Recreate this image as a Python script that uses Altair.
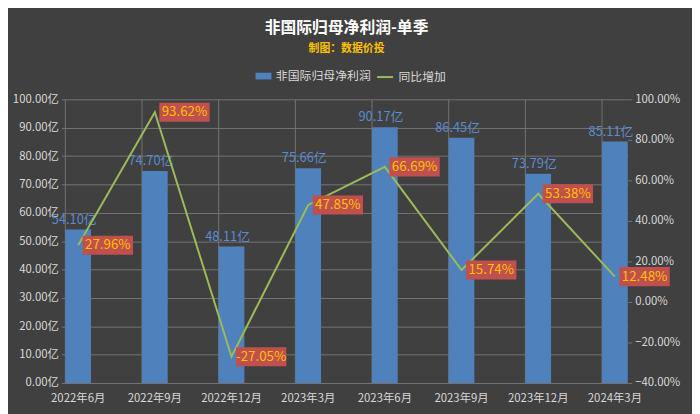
import altair as alt
import pandas as pd

quarters = ["2022年6月", "2022年9月", "2022年12月", "2023年3月",
            "2023年6月", "2023年9月", "2023年12月", "2024年3月"]
profit = [54.10, 74.70, 48.11, 75.66, 90.17, 86.45, 73.79, 85.11]
yoy = [27.96, 93.62, -27.05, 47.85, 66.69, 15.74, 53.38, 12.48]
left_ticks = [0, 10, 20, 30, 40, 50, 60, 70, 80, 90, 100]
right_ticks = [-40, -20, 0, 20, 40, 60, 80, 100]

BAR_NAME = "非国际归母净利润"
LINE_NAME = "同比增加"
FONT = "Noto Sans CJK SC"
BG = "#404040"
GRID = "#737373"
LABEL = "#d9d9d9"
BAR_C = "#4f81bd"
LINE_C = "#9bbb59"

df = pd.DataFrame({"quarter": quarters, "profit": profit, "yoy": yoy})
df["bar_series"] = BAR_NAME
df["line_series"] = LINE_NAME
df["profit_lbl"] = [f"{v:.2f}亿" for v in profit]
df["yoy_lbl"] = [f"{v:.2f}%" for v in yoy]

xscale = alt.Scale(paddingInner=0.665, paddingOuter=0)
x = alt.X("quarter:N", sort=quarters, scale=xscale,
          axis=alt.Axis(title=None, labelAngle=0, labelColor=LABEL, labelFontSize=11.5,
                        labelFont=FONT, ticks=False, domain=True, domainColor=GRID,
                        grid=False, labelPadding=10))

base = alt.Chart(df)

# vertical gridlines at the left edge of each bar
vgrid = base.mark_rule(color=GRID, strokeWidth=1, xOffset=-13).encode(x=x)

y_left = alt.Y("profit:Q", scale=alt.Scale(domain=[0, 100], nice=False),
               axis=alt.Axis(title=None, values=left_ticks,
                             labelExpr="format(datum.value, '.2f') + '亿'",
                             labelColor=LABEL, labelFontSize=11.5, labelFont=FONT,
                             grid=True, gridColor=GRID, gridWidth=1,
                             domain=False, ticks=True, tickSize=4, tickColor=GRID,
                             labelPadding=3))

bars = base.mark_bar().encode(
    x=x,
    y=y_left,
    fill=alt.Fill("bar_series:N",
                  scale=alt.Scale(domain=[BAR_NAME], range=[BAR_C]),
                  legend=alt.Legend(title=None, orient="none", legendX=192, legendY=-32,
                                    direction="horizontal",
                                    symbolType="M-1,-0.42L1,-0.42L1,0.42L-1,0.42Z",
                                    symbolSize=260, symbolStrokeWidth=0,
                                    labelColor=LABEL, labelFontSize=12, labelFont=FONT)),
)

bar_text = base.mark_text(baseline="bottom", dy=-3, dx=-4, color="#5b8bd0",
                          fontSize=13, font=FONT).encode(
    x=x, y=y_left, text="profit_lbl:N"
)

bar_layer = alt.layer(vgrid, bars, bar_text)

y_right = alt.Y("yoy:Q", scale=alt.Scale(domain=[-40, 100], nice=False),
                axis=alt.Axis(title=None, orient="right", values=right_ticks,
                              labelExpr="format(datum.value, '.2f') + '%'",
                              labelColor=LABEL, labelFontSize=11.5, labelFont=FONT,
                              grid=False, domain=False, ticks=True, tickSize=4,
                              tickColor=GRID, labelPadding=3))

line = base.mark_line(strokeWidth=2).encode(
    x=x,
    y=y_right,
    stroke=alt.Stroke("line_series:N",
                      scale=alt.Scale(domain=[LINE_NAME], range=[LINE_C]),
                      legend=alt.Legend(title=None, orient="none", legendX=314, legendY=-32,
                                        direction="horizontal", symbolType="stroke",
                                        symbolStrokeWidth=2, symbolSize=260,
                                        labelColor=LABEL, labelFontSize=12, labelFont=FONT)),
)

boxes = base.mark_point(shape="M-1,-0.38L1,-0.38L1,0.38L-1,0.38Z", size=2600,
                        filled=True, fill="#c0504d", opacity=1, strokeWidth=0,
                        xOffset=30).encode(x=x, y=y_right)

pct_text = base.mark_text(dx=30, color="#ffc000", fontSize=13.5, font=FONT,
                          baseline="middle").encode(x=x, y=y_right, text="yoy_lbl:N")

line_layer = alt.layer(line, boxes, pct_text)

chart = alt.layer(bar_layer, line_layer).resolve_scale(
    y="independent", fill="independent", stroke="independent"
).properties(
    width=569, height=287,
    padding={"left": 58, "top": 90, "right": 65, "bottom": 29},
    autosize=alt.AutoSizeParams(type="none"),
    background=BG,
    title=alt.TitleParams(
        text="非国际归母净利润-单季", subtitle="制图：数据价投",
        anchor="middle", color="#ffffff", fontSize=16, fontWeight="bold", font=FONT,
        subtitleColor="#ffc000", subtitleFontSize=11, subtitleFontWeight="bold",
        subtitleFont=FONT, subtitlePadding=7, offset=14,
    ),
).configure_view(stroke=None)

chart.save("out.html", embed_options={"renderer": "svg", "actions": False})
